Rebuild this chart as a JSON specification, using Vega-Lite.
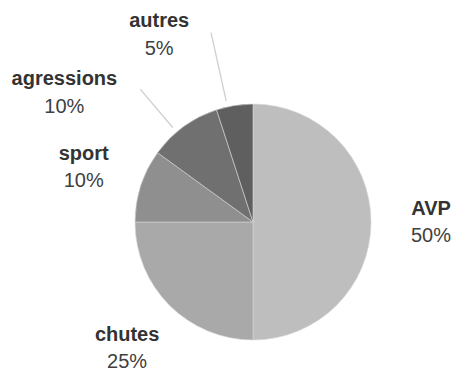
{
  "$schema": "https://vega.github.io/schema/vega-lite/v6.json",
  "width": 236,
  "height": 236,
  "autosize": "none",
  "padding": {"left": 135, "top": 104, "right": 83, "bottom": 30},
  "background": "white",
  "config": {"view": {"stroke": null}, "text": {"font": "Liberation Sans", "fontSize": 20, "color": "#333333"}},
  "data": {"values": [
    {"category": "AVP", "value": 0.50},
    {"category": "chutes", "value": 0.25},
    {"category": "sport", "value": 0.10},
    {"category": "agressions", "value": 0.10},
    {"category": "autres", "value": 0.05}
  ]},
  "transform": [
    {"window": [{"op": "row_number", "as": "idx"}]},
    {"stack": "value", "groupby": [], "sort": [{"field": "idx", "order": "ascending"}], "as": ["v0", "v1"]},
    {"calculate": "(datum.v0 + datum.v1) / 2", "as": "mid"}
  ],
  "layer": [
    {
      "mark": {"type": "arc", "stroke": "#d6d6d6", "strokeWidth": 0.6},
      "encoding": {
        "theta": {"field": "v0", "type": "quantitative", "scale": {"domain": [0, 1]}},
        "theta2": {"field": "v1"},
        "color": {"field": "category", "type": "nominal", "legend": null,
          "scale": {"domain": ["AVP", "chutes", "sport", "agressions", "autres"],
                    "range": ["#bebebe", "#a9a9a9", "#8f8f8f", "#707070", "#5f5f5f"]}}
      }
    },
    {
      "transform": [{"filter": {"field": "category", "oneOf": ["AVP", "chutes", "sport"]}}],
      "encoding": {
        "theta": {"field": "mid", "type": "quantitative"},
        "radius": {"value": 178}
      },
      "layer": [
        {"mark": {"type": "text", "fontWeight": "bold", "dy": -7, "baseline": "alphabetic", "align": "center"},
         "encoding": {"text": {"field": "category"}}},
        {"mark": {"type": "text", "dy": 20, "baseline": "alphabetic", "align": "center", "color": "#404040"},
         "encoding": {"text": {"field": "value", "format": ".0%"}}}
      ]
    },
    {
      "transform": [
        {"filter": {"field": "category", "equal": "agressions"}},
        {"calculate": "datum.mid - 0.012", "as": "lead"}
      ],
      "layer": [
        {"mark": {"type": "arc", "filled": false, "stroke": "#cfcfcf", "strokeWidth": 1.3},
         "encoding": {"theta": {"field": "lead", "type": "quantitative"}, "theta2": {"field": "lead"},
                      "radius": {"value": 124}, "radius2": {"value": 174}}},
        {"mark": {"type": "text", "fontWeight": "bold", "dx": -84, "dy": 7, "baseline": "alphabetic", "align": "center"},
         "encoding": {"theta": {"field": "mid", "type": "quantitative"}, "radius": {"value": 178}, "text": {"field": "category"}}},
        {"mark": {"type": "text", "dx": -84, "dy": 35, "baseline": "alphabetic", "align": "center", "color": "#404040"},
         "encoding": {"theta": {"field": "mid", "type": "quantitative"}, "radius": {"value": 178}, "text": {"field": "value", "format": ".0%"}}}
      ]
    },
    {
      "transform": [
        {"filter": {"field": "category", "equal": "autres"}},
        {"calculate": "datum.mid - 0.0097", "as": "lead"}
      ],
      "layer": [
        {"mark": {"type": "arc", "filled": false, "stroke": "#cfcfcf", "strokeWidth": 1.3},
         "encoding": {"theta": {"field": "lead", "type": "quantitative"}, "theta2": {"field": "lead"},
                      "radius": {"value": 124}, "radius2": {"value": 194}}},
        {"mark": {"type": "text", "fontWeight": "bold", "dx": -66, "dy": -19, "baseline": "alphabetic", "align": "center"},
         "encoding": {"theta": {"field": "mid", "type": "quantitative"}, "radius": {"value": 178}, "text": {"field": "category"}}},
        {"mark": {"type": "text", "dx": -66, "dy": 9, "baseline": "alphabetic", "align": "center", "color": "#404040"},
         "encoding": {"theta": {"field": "mid", "type": "quantitative"}, "radius": {"value": 178}, "text": {"field": "value", "format": ".0%"}}}
      ]
    }
  ]
}
